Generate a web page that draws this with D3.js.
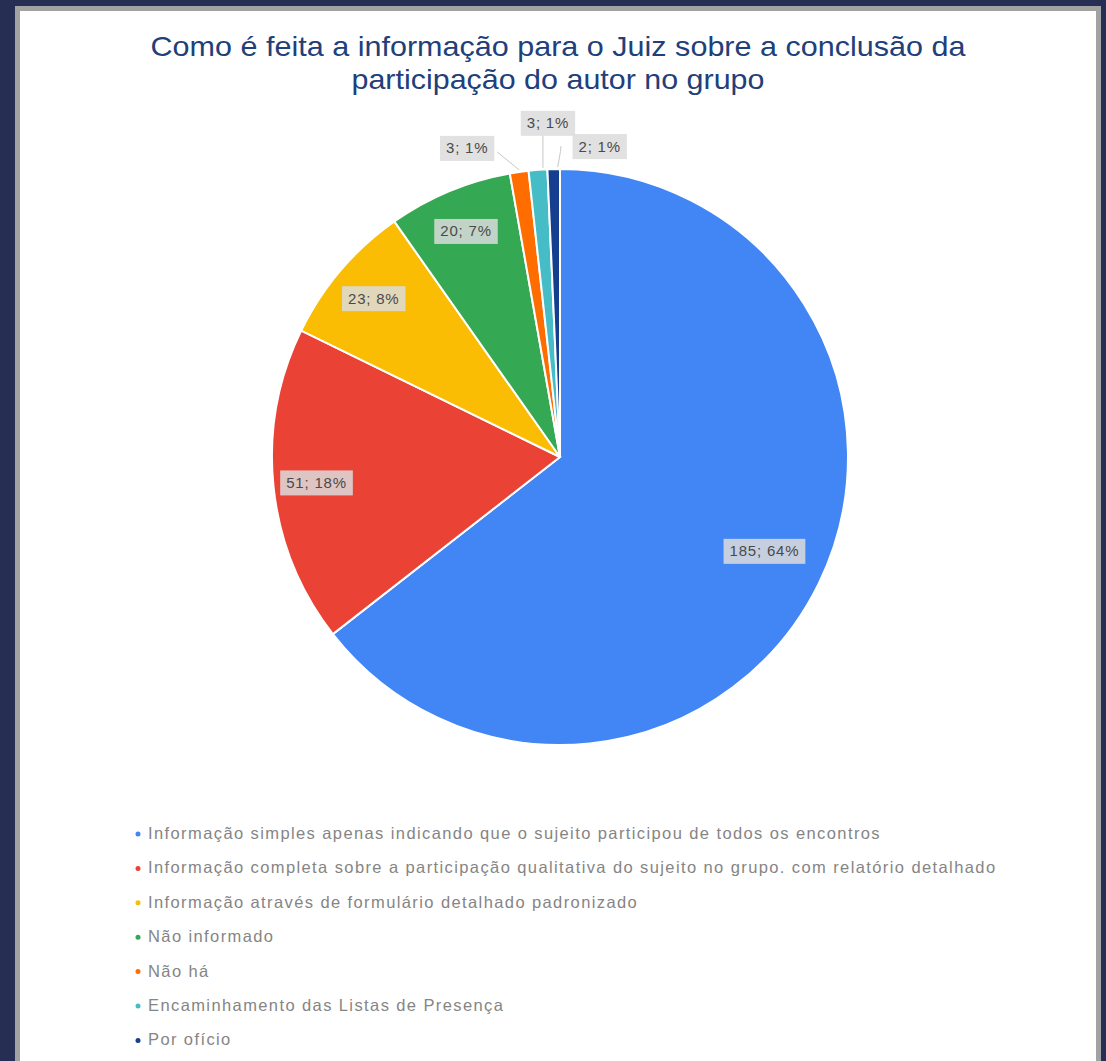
<!DOCTYPE html>
<html><head><meta charset="utf-8">
<script src="https://cdn.jsdelivr.net/npm/d3@7"></script>
<style>html,body{margin:0;padding:0;background:#262f53;}svg{display:block;}</style>
</head><body>
<svg id="chart" width="1106" height="1061"></svg>
<script>
const titleLines = ["Como é feita a informação para o Juiz sobre a conclusão da", "participação do autor no grupo"];
const categories = [
  "Informação simples apenas indicando que o sujeito participou de todos os encontros",
  "Informação completa sobre a participação qualitativa do sujeito no grupo. com relatório detalhado",
  "Informação através de formulário detalhado padronizado",
  "Não informado",
  "Não há",
  "Encaminhamento das Listas de Presença",
  "Por ofício"
];
const values = [185, 51, 23, 20, 3, 3, 2];
const percentLabels = ["64%", "18%", "8%", "7%", "1%", "1%", "1%"];
const colors = ["#4285f4", "#ea4335", "#fbbc04", "#34a853", "#ff6d01", "#46bdc6", "#163e8e"];

const svg = d3.select("#chart");
const W = 1106, H = 1061;
svg.append("rect").attr("x",0).attr("y",0).attr("width",W).attr("height",H).attr("fill","#262f53");
svg.append("rect").attr("x",15).attr("y",6).attr("width",1086).attr("height",H).attr("fill","#a2a2a2");
svg.append("rect").attr("x",20).attr("y",11).attr("width",1076).attr("height",H).attr("fill","#ffffff");

const font = "Liberation Sans, Arial, sans-serif";
// title
const titleWidths = [815, 413];
svg.append("g").selectAll("text").data(titleLines).join("text")
  .attr("x", 558).attr("y", (d,i)=>56 + i*33)
  .attr("text-anchor","middle")
  .attr("font-family",font)
  .attr("font-size", 28).attr("fill","#21407a")
  .attr("textLength",(d,i)=>titleWidths[i]).attr("lengthAdjust","spacingAndGlyphs")
  .text(d=>d);

const cx = 560, cy = 457, R = 288;
const pie = d3.pie().sort(null).value(d=>d)(values);
const arc = d3.arc().innerRadius(0).outerRadius(R);
const g = svg.append("g").attr("transform",`translate(${cx},${cy})`);
g.selectAll("path").data(pie).join("path")
  .attr("d", arc).attr("fill",(d,i)=>colors[i])
  .attr("stroke","#fff").attr("stroke-width",2);

const labelText = (i)=> `${values[i]}; ${percentLabels[i]}`;
const insideR = 0.85;
const outsideOffsets = [{dx:-52,dy:-24},{dx:10,dy:-47},{dx:46,dy:-23}];

function drawLabel(x, y, txt){
  const t = g.append("text").attr("x",x).attr("y",y+5.5)
    .attr("text-anchor","middle").attr("font-family",font).attr("font-size",15)
    .attr("letter-spacing",0.8)
    .attr("fill","#4a4a4a").text(txt);
  const w = t.node().getComputedTextLength();
  g.insert("rect", function(){ return t.node(); })
    .attr("x", x - w/2 - 6).attr("y", y - 12).attr("width", w + 12).attr("height", 25)
    .attr("fill","#dcdcdc").attr("fill-opacity",0.85);
}

let outIdx = 0;
pie.forEach((d,i)=>{
  const a = (d.startAngle + d.endAngle)/2;
  const frac = (d.endAngle - d.startAngle)/(2*Math.PI);
  if (frac > 0.03) {
    const rr = i===0 ? R*0.79 : R*insideR;
    drawLabel(rr*Math.sin(a), -rr*Math.cos(a) - (i===0 ? 6 : 0), labelText(i));
  } else {
    const ax = R*Math.sin(a), ay = -R*Math.cos(a);
    const off = outsideOffsets[outIdx++];
    const lx = ax + off.dx, ly = ay + off.dy;
    let path;
    if (Math.abs(off.dx) < 15) path = `M${ax+5},${ay-2}L${ax+5},${ly+12}`;
    else if (off.dx < 0) path = `M${ax},${ay-2}L${lx+30},${ly+4}`;
    else path = `M${ax+4},${ay-2}Q${ax+8},${ly}${lx-30},${ly}`;
    g.append("path").attr("d",path).attr("fill","none")
      .attr("stroke", "#c8c8c8").attr("stroke-width",1);
    drawLabel(lx, ly, labelText(i));
  }
});

// legend
const lg = svg.append("g");
const rows = lg.selectAll("g").data(categories).join("g")
  .attr("transform",(d,i)=>`translate(138,${839 + i*34.4})`);
rows.append("circle").attr("cx",0).attr("cy",-5).attr("r",2.5).attr("fill",(d,i)=>colors[i]);
rows.append("text").attr("x",10).attr("y",0)
  .attr("font-family",font).attr("font-size",16.5).attr("letter-spacing",1.4)
  .attr("fill","#858585")
  .text(d=>d);
</script>
</body></html>
